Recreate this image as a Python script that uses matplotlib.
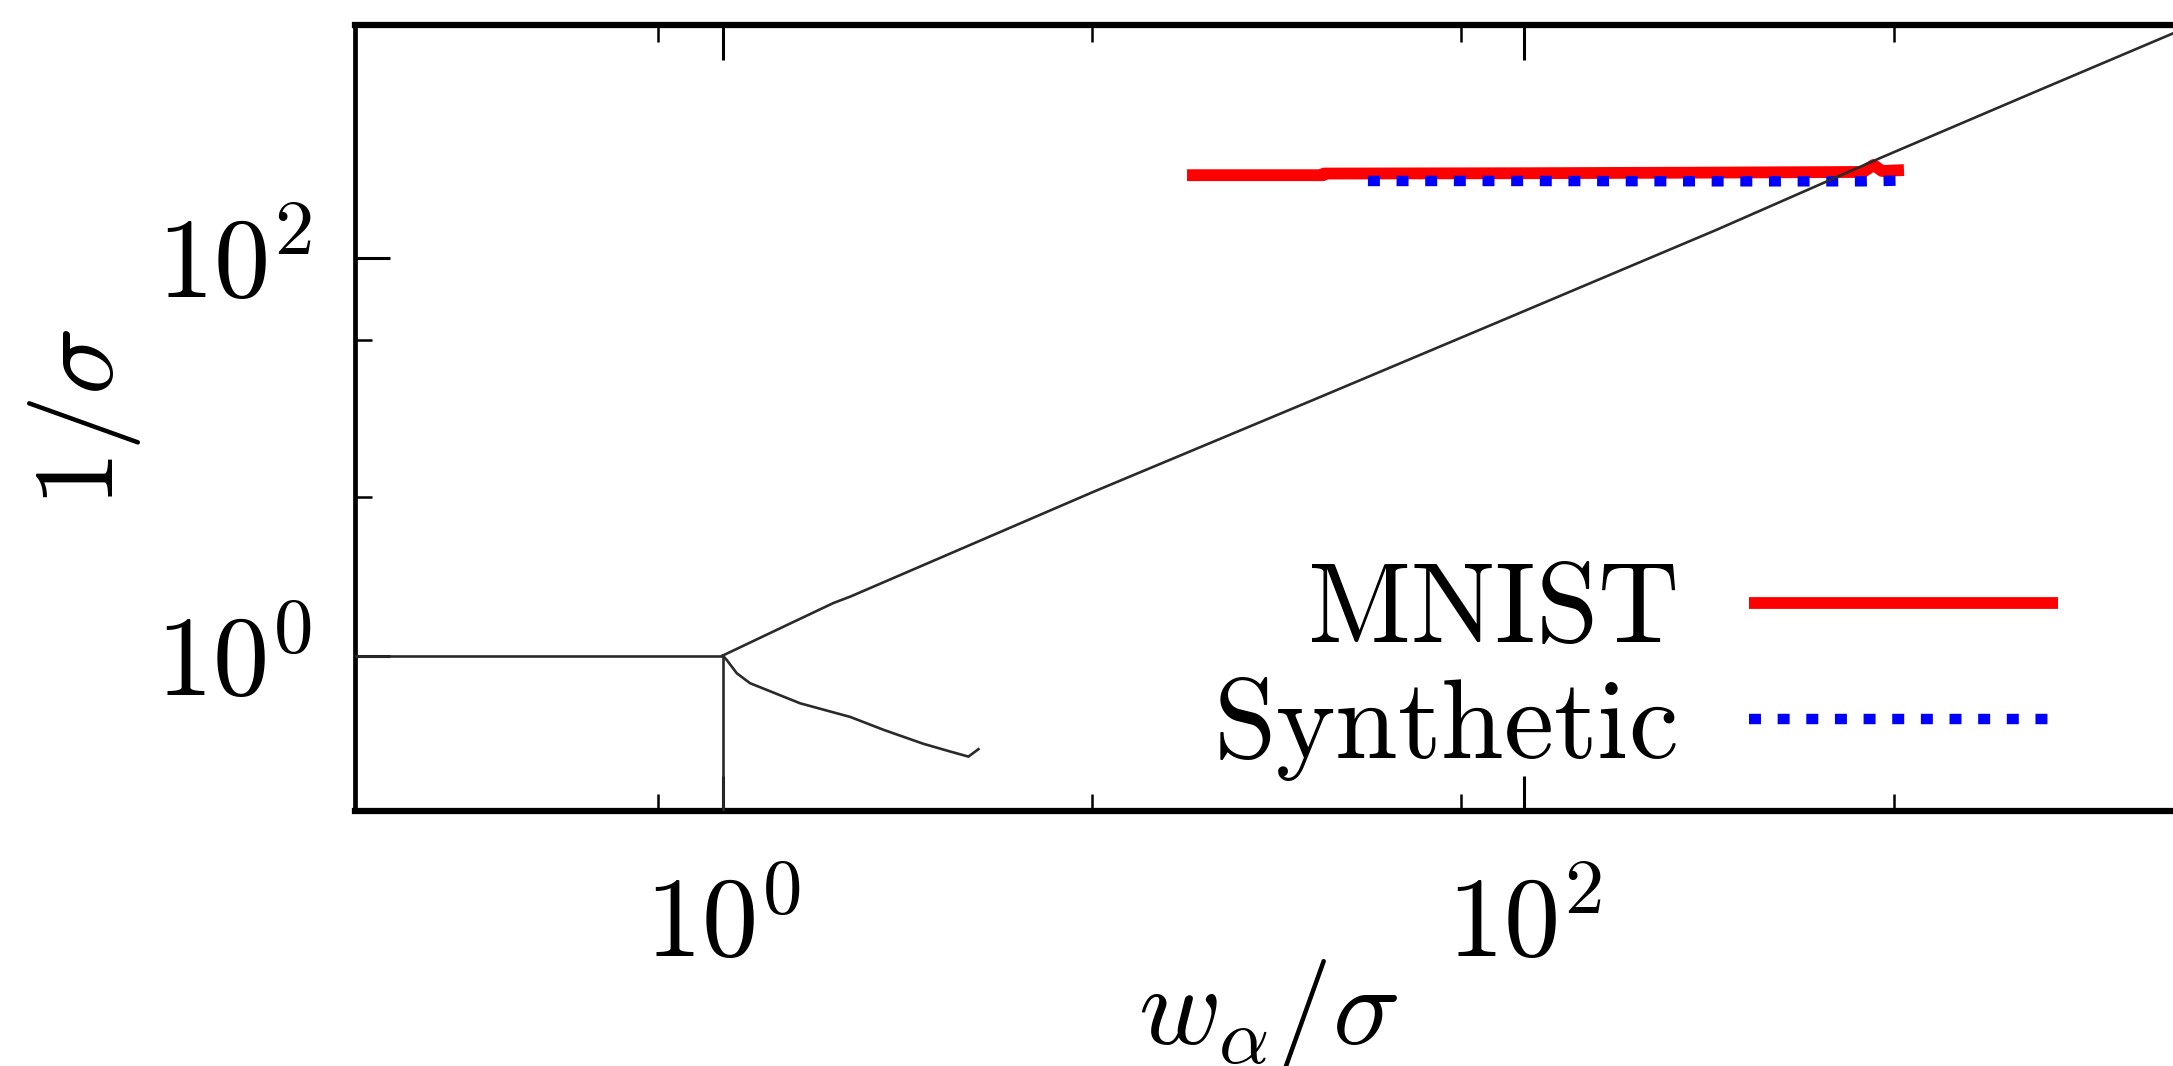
import matplotlib
matplotlib.use('Agg')
import matplotlib.pyplot as plt
import matplotlib.ticker as ticker

plt.rcParams['mathtext.fontset'] = 'cm'
plt.rcParams['font.family'] = 'serif'
plt.rcParams['font.serif'] = ['cmr10', 'DejaVu Serif']
plt.rcParams['axes.formatter.use_mathtext'] = True

# phase boundaries (w_alpha/sigma, 1/sigma)
flat_x = [0.1, 1.0]
flat_y = [1.0, 1.0]
vert_x = [1.0, 1.0]
vert_y = [1.0, 0.1]
upper_x = [1.0, 1.42, 1.89, 2.08, 8.45, 30.8, 92.5, 300.6, 772.7, 1841, 4159]
upper_y = [1.0, 1.40, 1.84, 1.98, 6.70, 19.95, 50.8, 138.7, 319.9, 676, 1358]
lower_x = [1.0, 1.023, 1.084, 1.170, 1.560, 2.080, 2.518, 3.162, 3.690, 4.102, 4.345]
lower_y = [1.0, 0.951, 0.815, 0.726, 0.575, 0.491, 0.423, 0.360, 0.329, 0.310, 0.338]

# trajectories
mnist_x = [14.4, 31.5, 31.6, 100, 300, 700, 743, 780, 885]
mnist_y = [262, 262, 267, 268, 270, 272, 295, 275, 278]
synth_x = [40.7, 100, 300, 700, 860, 910]
synth_y = [245, 245, 244, 244, 246, 234]

# ticks
xmajor = [1, 100]
ymajor = [1, 100]
xminor = [0.69, 8.34, 69.5, 836]
yminor = [6.3, 38.8]
tick_labels = [r'$10^0$', r'$10^2$']

FS = 81

fig = plt.figure(figsize=(21.73, 10.66), dpi=100)
ax = fig.add_axes([0.1634, 0.2392, 0.8399, 0.7373])
ax.set_xscale('log')
ax.set_yscale('log')

black = '#2a2a2a'
ax.plot(flat_x, flat_y, color=black, lw=1.9, zorder=3)
ax.plot(vert_x, vert_y, color=black, lw=1.9, zorder=3)
ax.plot(upper_x, upper_y, color=black, lw=1.9, zorder=3)
ax.plot(lower_x, lower_y, color=black, lw=1.9, zorder=3)

l1, = ax.plot(mnist_x, mnist_y, color='#ff0000', lw=8.5, solid_capstyle='butt',
              label=r'$\mathrm{MNIST}$', zorder=2)
l2, = ax.plot(synth_x, synth_y, color='#0000ff', lw=7.5, dashes=(1.15, 1.6),
              dash_capstyle='butt', label=r'$\mathrm{Synthetic}$', zorder=2)

ax.set_xlim(0.121, 4325)
ax.set_ylim(0.165, 1493)

ax.set_xticks(xmajor, labels=tick_labels)
ax.set_yticks(ymajor, labels=tick_labels)
ax.set_xticks(xminor, minor=True)
ax.set_yticks(yminor, minor=True)
ax.xaxis.set_minor_formatter(ticker.NullFormatter())
ax.yaxis.set_minor_formatter(ticker.NullFormatter())

ax.tick_params(which='both', direction='in', top=True, bottom=True, left=True, right=False)
ax.tick_params(which='major', length=25, width=2.2, labelsize=FS)
ax.tick_params(which='minor', length=12.5, width=1.8)
ax.tick_params(axis='x', which='major', pad=47)
ax.tick_params(axis='y', which='major', pad=31)

ax.spines['top'].set_linewidth(4.5)
ax.spines['bottom'].set_linewidth(4.5)
ax.spines['left'].set_linewidth(3.4)
ax.spines['right'].set_visible(False)

ax.set_xlabel(r'$w_\alpha/\sigma$', fontsize=FS)
ax.set_ylabel(r'$1/\sigma$', fontsize=FS)
ax.xaxis.set_label_coords(0.5, -0.186)
ax.yaxis.set_label_coords(-0.116, 0.5)

# one legend per entry so the labels line up on their right edge
leg1 = ax.legend(handles=[l1], loc='center right', bbox_to_anchor=(0.933, 0.2506),
                 frameon=False, fontsize=FS, markerfirst=False, handlelength=2.75,
                 handletextpad=0.64, borderpad=0, borderaxespad=0)
ax.add_artist(leg1)
ax.legend(handles=[l2], loc='center right', bbox_to_anchor=(0.933, 0.1043),
          frameon=False, fontsize=FS, markerfirst=False, handlelength=2.75,
          handletextpad=0.64, borderpad=0, borderaxespad=0)

fig.savefig('out.png', dpi=100)
